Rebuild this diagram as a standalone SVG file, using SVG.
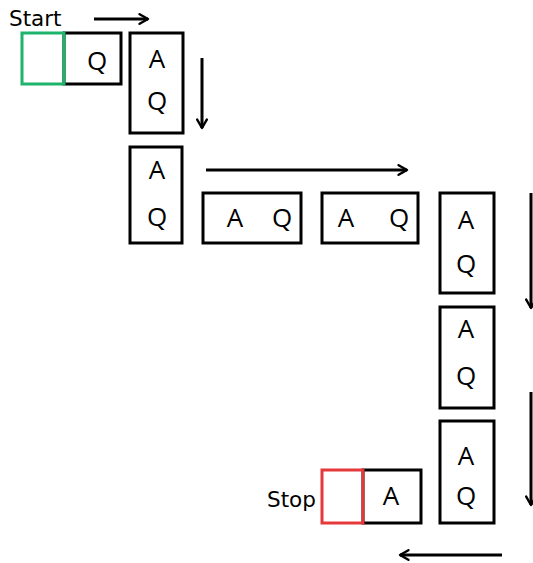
<svg xmlns="http://www.w3.org/2000/svg" width="533" height="563" viewBox="0 0 533 563">
<defs>
<style>
.box{fill:none;stroke:#000;stroke-width:3}
.t{font-family:"Open Sans","Noto Sans",sans-serif;font-size:26px;fill:#000;text-anchor:middle}
.lbl{font-family:"DejaVu Sans","Open Sans",sans-serif;font-size:21.5px;fill:#000}
.arr{fill:none;stroke:#000;stroke-width:3;marker-end:url(#ah)}
</style>
<marker id="ah" viewBox="0 0 10 10" refX="8" refY="5" markerWidth="4" markerHeight="4" orient="auto" markerUnits="strokeWidth">
<path d="M1,1 L8,5 L1,9" fill="none" stroke="#000" stroke-width="2" stroke-linecap="round" stroke-linejoin="round"/>
</marker>
</defs>
<rect width="533" height="563" fill="#fff"/>
<text class="lbl" x="9" y="26">Start</text>
<text class="lbl" x="267" y="507">Stop</text>
<g id="start-node">
<rect x="64" y="33" width="57" height="51" class="box"/>
<rect x="22" y="33" width="42" height="51" fill="none" stroke="#1db36a" stroke-width="3"/>
<text class="t" x="97" y="70">Q</text>
</g>
<g id="n2"><rect x="130" y="33" width="53" height="100" class="box"/><text class="t" x="157" y="68">A</text><text class="t" x="157" y="110">Q</text></g>
<g id="n3"><rect x="130" y="147" width="52" height="96" class="box"/><text class="t" x="157" y="179">A</text><text class="t" x="157" y="226">Q</text></g>
<g id="n4"><rect x="203" y="193" width="98" height="50" class="box"/><text class="t" x="235" y="227">A</text><text class="t" x="282" y="227">Q</text></g>
<g id="n5"><rect x="322" y="193" width="96" height="50" class="box"/><text class="t" x="346" y="227">A</text><text class="t" x="399" y="227">Q</text></g>
<g id="n6"><rect x="440" y="193" width="54" height="100" class="box"/><text class="t" x="466" y="229">A</text><text class="t" x="466" y="273">Q</text></g>
<g id="n7"><rect x="440" y="307" width="54" height="101" class="box"/><text class="t" x="466" y="338">A</text><text class="t" x="466" y="385">Q</text></g>
<g id="n8"><rect x="440" y="421" width="54" height="102" class="box"/><text class="t" x="466" y="465">A</text><text class="t" x="466" y="505">Q</text></g>
<g id="stop-node">
<rect x="363" y="470" width="58" height="53" class="box"/>
<rect x="322" y="470" width="41" height="53" fill="none" stroke="#e5383b" stroke-width="3"/>
<text class="t" x="391" y="505">A</text>
</g>
<g id="connectors">
<line x1="94" y1="19" x2="148" y2="19" class="arr"/>
<line x1="202" y1="58" x2="202" y2="128" class="arr"/>
<line x1="206" y1="170" x2="407" y2="170" class="arr"/>
<line x1="531" y1="193" x2="531" y2="308" class="arr"/>
<line x1="531" y1="392" x2="531" y2="505" class="arr"/>
<line x1="502" y1="555" x2="400" y2="555" class="arr"/>
</g>
</svg>
